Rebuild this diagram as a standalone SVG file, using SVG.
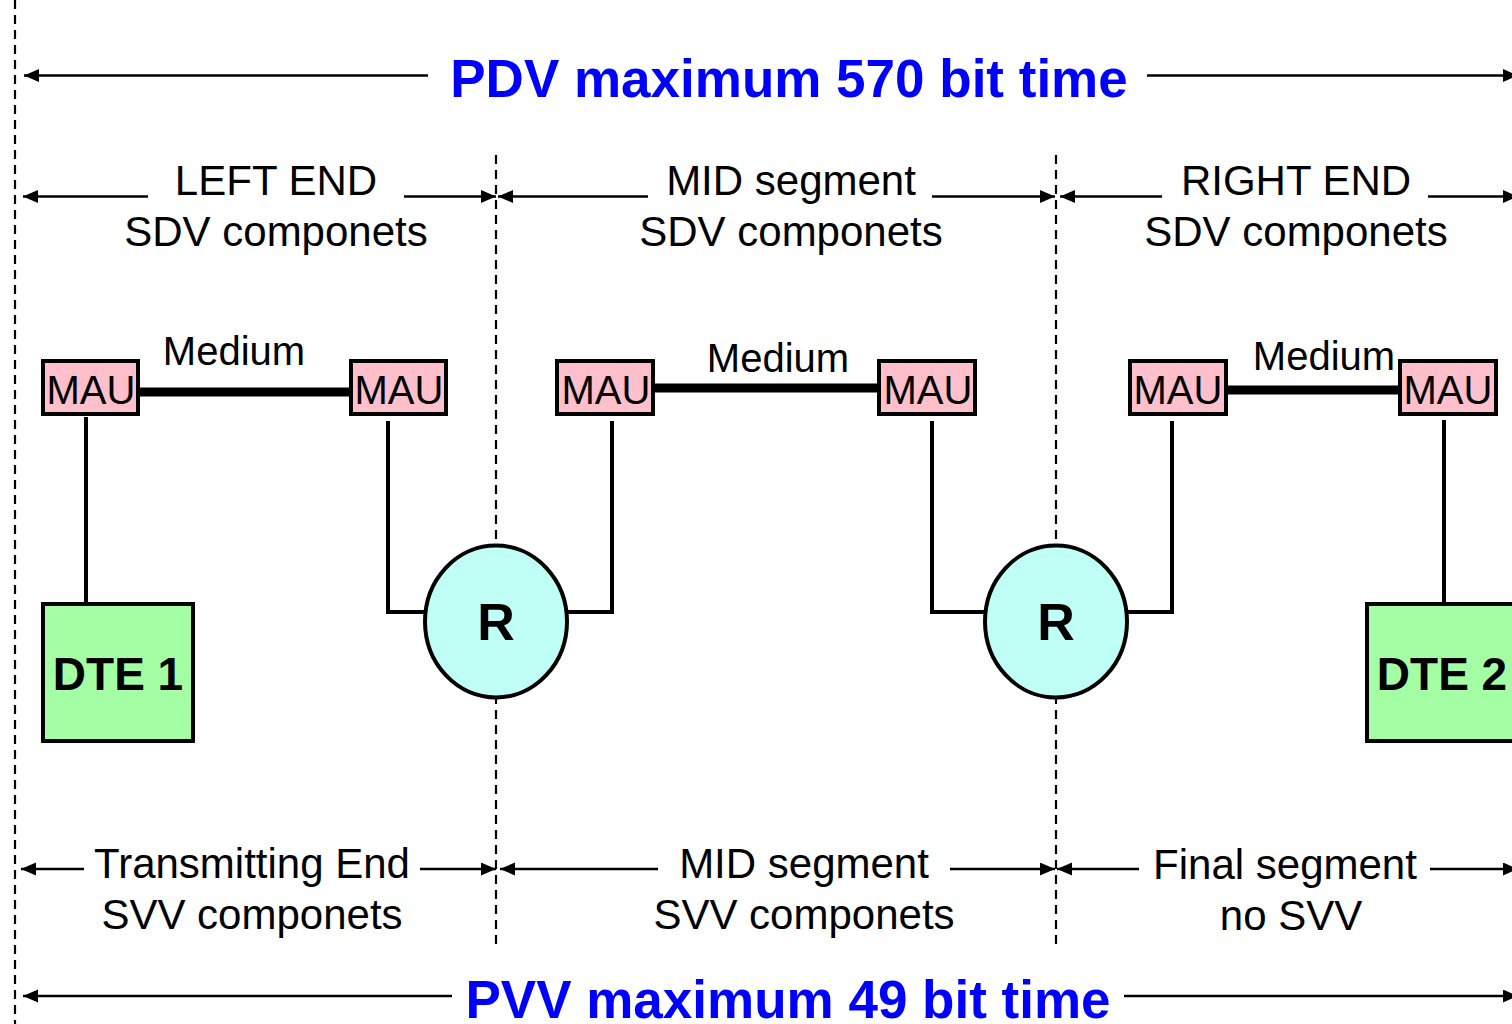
<svg xmlns="http://www.w3.org/2000/svg" width="1512" height="1024" viewBox="0 0 1512 1024">
<defs>
<marker id="ah" markerUnits="userSpaceOnUse" markerWidth="16" markerHeight="14" refX="15" refY="6.5" orient="auto-start-reverse">
<path d="M0,0 L15,6.5 L0,13 z" fill="#000"/>
</marker>
<style>
.dash{stroke:#000;stroke-width:2.2;stroke-dasharray:9,6;fill:none}
.arr{stroke:#000;stroke-width:2.5;fill:none}
.wire{stroke:#000;stroke-width:4;fill:none}
.med{stroke:#000;stroke-width:9;fill:none}
.mau{fill:#FFC0CB;stroke:#000;stroke-width:4}
.dte{fill:#A4FFA4;stroke:#000;stroke-width:4}
.rep{fill:#C0FFF5;stroke:#000;stroke-width:4}
.t{font-family:"Liberation Sans",Arial,sans-serif;font-size:42px;fill:#000;text-anchor:middle}
.m{font-family:"Liberation Sans",Arial,sans-serif;font-size:40px;fill:#000;text-anchor:middle}
.b{font-family:"Liberation Sans",Arial,sans-serif;font-weight:bold;font-size:53px;fill:#0000FF;text-anchor:middle}
.n{font-family:"Liberation Sans",Arial,sans-serif;font-weight:bold;font-size:46px;fill:#000;text-anchor:middle}
.r{font-family:"Liberation Sans",Arial,sans-serif;font-weight:bold;font-size:52px;fill:#000;text-anchor:middle}
</style>
</defs>
<rect width="1512" height="1024" fill="#fff"/>

<g id="dividers">
<line class="dash" x1="15" y1="0" x2="15" y2="1024"/>
<line class="dash" x1="496" y1="155" x2="496" y2="948"/>
<line class="dash" x1="1056" y1="155" x2="1056" y2="948"/>
</g>

<g id="connectors">
<line class="arr" x1="428" y1="75.5" x2="24" y2="75.5" marker-end="url(#ah)"/>
<line class="arr" x1="1147" y1="75.5" x2="1518" y2="75.5" marker-end="url(#ah)"/>
<line class="arr" x1="148" y1="196.5" x2="23" y2="196.5" marker-end="url(#ah)"/>
<line class="arr" x1="404" y1="196.5" x2="496" y2="196.5" marker-end="url(#ah)"/>
<line class="arr" x1="648" y1="196.5" x2="498" y2="196.5" marker-end="url(#ah)"/>
<line class="arr" x1="932" y1="196.5" x2="1055" y2="196.5" marker-end="url(#ah)"/>
<line class="arr" x1="1162" y1="196.5" x2="1060" y2="196.5" marker-end="url(#ah)"/>
<line class="arr" x1="1428" y1="196.5" x2="1518" y2="196.5" marker-end="url(#ah)"/>
<line class="arr" x1="84" y1="869" x2="21" y2="869" marker-end="url(#ah)"/>
<line class="arr" x1="420" y1="869" x2="496" y2="869" marker-end="url(#ah)"/>
<line class="arr" x1="658" y1="869" x2="500" y2="869" marker-end="url(#ah)"/>
<line class="arr" x1="950" y1="869" x2="1055" y2="869" marker-end="url(#ah)"/>
<line class="arr" x1="1139" y1="869" x2="1057" y2="869" marker-end="url(#ah)"/>
<line class="arr" x1="1430" y1="869" x2="1518" y2="869" marker-end="url(#ah)"/>
<line class="arr" x1="452" y1="996" x2="23" y2="996" marker-end="url(#ah)"/>
<line class="arr" x1="1124" y1="996" x2="1518" y2="996" marker-end="url(#ah)"/>
<line class="med" x1="139" y1="392" x2="350" y2="392"/>
<line class="med" x1="654" y1="388" x2="878" y2="388"/>
<line class="med" x1="1227" y1="390" x2="1398" y2="390"/>
<line class="wire" x1="86" y1="417" x2="86" y2="603"/>
<polyline class="wire" points="388,421 388,612 426,612"/>
<polyline class="wire" points="566,612 612,612 612,421"/>
<polyline class="wire" points="932,421 932,612 986,612"/>
<polyline class="wire" points="1126,612 1172,612 1172,421"/>
<line class="wire" x1="1444" y1="420" x2="1444" y2="602"/>
</g>

<g id="labels">
<text class="b" x="789" y="97">PDV maximum 570 bit time</text>
<text class="t" x="276" y="195">LEFT END</text>
<text class="t" x="276" y="246">SDV componets</text>
<text class="t" x="791" y="195">MID segment</text>
<text class="t" x="791" y="246">SDV componets</text>
<text class="t" x="1296" y="195">RIGHT END</text>
<text class="t" x="1296" y="246">SDV componets</text>
<text class="t" x="252" y="878">Transmitting End</text>
<text class="t" x="252" y="929">SVV componets</text>
<text class="t" x="804" y="878">MID segment</text>
<text class="t" x="804" y="929">SVV componets</text>
<text class="t" x="1285" y="879">Final segment</text>
<text class="t" x="1291" y="930">no SVV</text>
<text class="b" x="788" y="1018">PVV maximum 49 bit time</text>
<text class="m" x="234" y="365">Medium</text>
<text class="m" x="778" y="372">Medium</text>
<text class="m" x="1324" y="370">Medium</text>
</g>

<g id="mau1"><rect class="mau" x="43" y="361" width="95" height="53"/><text class="m" x="91" y="404">MAU</text></g>
<g id="mau2"><rect class="mau" x="351" y="361" width="95" height="53"/><text class="m" x="399" y="404">MAU</text></g>
<g id="mau3"><rect class="mau" x="557" y="361" width="96" height="53"/><text class="m" x="606" y="404">MAU</text></g>
<g id="mau4"><rect class="mau" x="879" y="361" width="96" height="53"/><text class="m" x="928" y="404">MAU</text></g>
<g id="mau5"><rect class="mau" x="1130" y="361" width="96" height="53"/><text class="m" x="1178" y="404">MAU</text></g>
<g id="mau6"><rect class="mau" x="1400" y="361" width="96" height="53"/><text class="m" x="1448" y="404">MAU</text></g>

<g id="dte1"><rect class="dte" x="43" y="604" width="150" height="137"/><text class="n" x="118" y="690">DTE 1</text></g>
<g id="dte2"><rect class="dte" x="1367" y="604" width="160" height="137"/><text class="n" x="1442" y="690">DTE 2</text></g>

<g id="r1"><ellipse class="rep" cx="496" cy="621.5" rx="71" ry="76"/><text class="r" x="496" y="640">R</text></g>
<g id="r2"><ellipse class="rep" cx="1056" cy="621.5" rx="71" ry="76"/><text class="r" x="1056" y="640">R</text></g>
</svg>
